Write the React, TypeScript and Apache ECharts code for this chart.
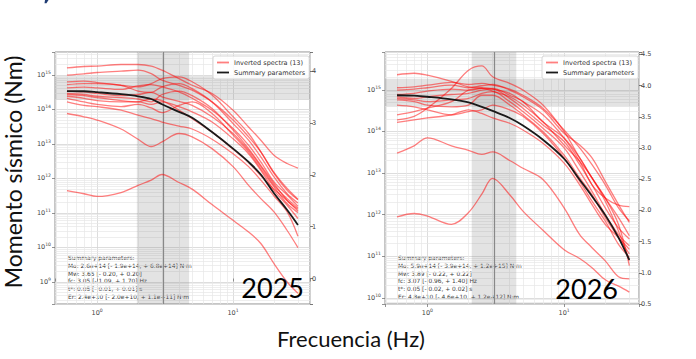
import React, { useEffect, useRef } from "react";
import * as echarts from "echarts";

const FREQ = [0.6, 0.8, 1, 1.5, 2, 2.5, 3, 4, 5, 7, 10, 13, 16, 20, 25, 30];

const SPECTRA_2025: number[][] = [
  [1.6e15, 1.75e15, 1.8e15, 2.0e15, 2.0e15, 1.8e15, 1.37e15, 7.8e14, 5.0e14, 2.9e14, 9.5e13, 3.1e13, 1.28e13, 4.7e12, 2.7e12, 2.0e12],
  [9.8e14, 1.07e15, 1.17e15, 1.28e15, 1.37e15, 1.09e15, 7.0e14, 5.0e14, 3.6e14, 1.65e14, 4.9e13, 1.6e13, 5.9e12, 1.5e12, 5.1e11, 2.5e11],
  [6.3e14, 6.6e14, 6.0e14, 5.0e14, 4.5e14, 5.6e14, 7.8e14, 8.7e14, 6.3e14, 2.6e14, 6.1e13, 2.0e13, 5.9e12, 1.4e12, 4.5e11, 2.4e11],
  [5.2e14, 5.6e14, 5.6e14, 5.0e14, 3.4e14, 3.1e14, 4.5e14, 5.6e14, 4.0e14, 1.65e14, 3.9e13, 1.28e13, 4.2e12, 1.1e12, 3.6e11, 1.95e11],
  [4.2e14, 4.4e14, 4.2e14, 3.8e14, 4.8e14, 5.2e14, 4.5e14, 3.2e14, 2.1e14, 9.5e13, 2.8e13, 9.2e12, 3.0e12, 7.9e11, 3.3e11, 1.56e11],
  [3.4e14, 3.2e14, 2.9e14, 2.5e14, 2.7e14, 3.1e14, 2.3e14, 1.7e14, 1.3e14, 6.1e13, 2.0e13, 6.6e12, 2.2e12, 6.3e11, 2.6e11, 1.4e11],
  [2.9e14, 2.7e14, 2.4e14, 2.2e14, 2.0e14, 1.65e14, 2.7e14, 3.4e14, 2.5e14, 1.06e14, 2.5e13, 7.3e12, 2.4e12, 7.1e11, 2.3e11, 1.28e11],
  [2.4e14, 2.1e14, 1.8e14, 1.65e14, 1.65e14, 1.4e14, 1.65e14, 1.2e14, 8.5e13, 4.3e13, 1.4e13, 5.2e12, 1.7e12, 4.5e11, 1.67e11, 6.9e10],
  [2.1e14, 1.65e14, 1.4e14, 1.2e14, 1.4e14, 1.1e14, 8.1e13, 1.3e14, 1.65e14, 7.6e13, 1.8e13, 5.9e12, 1.9e12, 5.7e11, 1.87e11, 1.02e11],
  [1.65e14, 1.3e14, 1.2e14, 9.5e13, 6.8e13, 5.4e13, 4.3e13, 3.3e13, 2.7e13, 1.37e13, 5.2e12, 2.2e12, 8.9e11, 3.1e11, 1.07e11, 2.1e10],
  [7.6e13, 6.1e13, 4.9e13, 2.7e13, 1.37e13, 8.4e12, 1.14e13, 2.0e13, 1.6e13, 7.3e12, 2.2e12, 6.3e11, 2.6e11, 1.07e11, 3.1e10, 9.9e9],
  [2.7e14, 2.5e14, 2.2e14, 1.8e14, 1.65e14, 2.0e14, 1.8e14, 9.5e13, 5.4e13, 2.2e13, 7.0e12, 2.9e12, 1.2e12, 4.9e11, 2.3e11, 1.14e11],
  [4.4e11, 3.6e11, 3.0e11, 3.9e11, 6.3e11, 8.9e11, 1.3e12, 7.6e11, 4.9e11, 1.75e11, 6.1e10, 2.8e10, 1.3e10, 3.4e9, 1.0e9, 4.7e8],
];
const SUMMARY_2025 = [3.4e14, 3.35e14, 3.15e14, 2.75e14, 2.4e14, 2.0e14, 1.41e14, 8.5e13, 5.7e13, 2.2e13, 7.3e12, 3.0e12, 1.3e12, 3.7e11, 1.22e11, 4.5e10];

const SPECTRA_2026: number[][] = [
  [2.3e15, 2.5e15, 2.24e15, 1.6e15, 1.18e15, 1.12e15, 1.04e15, 8.2e14, 5.2e14, 2.5e14, 6.9e13, 1.9e13, 5.2e12, 2.5e12, 1.68e12, 1.56e12],
  [1.12e15, 1.18e15, 1.29e15, 1.5e15, 1.34e15, 1.42e15, 1.29e15, 1.04e15, 7.4e14, 3.6e14, 1.08e14, 4.0e13, 1.58e13, 5.2e12, 1.45e12, 7.1e11],
  [9.8e14, 1.04e15, 1.12e15, 1.29e15, 1.12e15, 1.25e15, 1.34e15, 9.8e14, 6.8e14, 3.3e14, 9.0e13, 4.7e13, 2.3e13, 6.3e12, 1.74e12, 6.5e11],
  [7.7e14, 8.2e14, 9.3e14, 1.04e15, 9.8e14, 1.08e15, 1.08e15, 7.4e14, 5.2e14, 1.7e14, 6.9e13, 2.3e13, 7.6e12, 2.5e12, 8.4e11, 3.1e11],
  [6.8e14, 6.2e14, 6.8e14, 7.7e14, 8.2e14, 9.8e14, 1.04e15, 6.2e14, 3.6e14, 1.43e14, 5.7e13, 1.58e13, 5.2e12, 1.45e12, 4.8e11, 2.6e11],
  [6.2e14, 5.7e14, 5.2e14, 5.7e14, 6.2e14, 8.2e14, 9.0e14, 5.2e14, 3.0e14, 1.19e14, 4.0e13, 1.09e13, 3.6e12, 1.0e12, 3.3e11, 1.79e11],
  [5.7e14, 5.2e14, 4.3e14, 3.9e14, 4.3e14, 7.4e14, 7.4e14, 4.3e14, 2.5e14, 9.9e13, 2.7e13, 7.6e12, 3.0e12, 8.4e11, 2.8e11, 1.13e11],
  [4.3e14, 3.9e14, 3.3e14, 2.5e14, 3.0e14, 3.3e14, 4.3e14, 3.3e14, 2.3e14, 9.0e13, 2.3e13, 6.3e12, 2.1e12, 7.0e11, 1.92e11, 9.4e10],
  [2.5e14, 3.0e14, 3.6e14, 5.2e14, 9.8e14, 1.08e15, 9.3e14, 6.8e14, 4.3e14, 1.7e14, 4.7e13, 1.9e13, 7.6e12, 2.1e12, 4.0e11, 7.8e10],
  [1.9e14, 2.3e14, 3.6e14, 1.08e15, 2.95e15, 3.75e15, 2.05e15, 1.42e15, 9.8e14, 4.3e14, 9.9e13, 2.3e13, 7.6e12, 2.5e12, 5.8e11, 5.9e10],
  [1.65e14, 1.9e14, 2.1e14, 2.5e14, 3.3e14, 2.7e14, 2.1e14, 1.57e14, 1.08e14, 5.2e13, 1.73e13, 5.2e12, 1.74e12, 5.8e11, 2.8e11, 1.46e11],
  [3.0e13, 4.5e13, 7.0e13, 4.5e13, 3.5e13, 2.8e13, 3.2e13, 2.0e13, 1.3e13, 7.0e12, 1.45e12, 3.3e11, 1.6e11, 7.7e10, 3.2e10, 2.85e10],
  [8.8e11, 1.06e12, 9.2e11, 5.8e11, 1.12e12, 3.1e12, 7.4e12, 3.0e12, 1.21e12, 4.2e11, 1.43e11, 8.8e10, 5.3e10, 2.7e10, 1.9e10, 1.37e10],
];
const SUMMARY_2026 = [7.4e14, 7.2e14, 6.8e14, 5.9e14, 5.0e14, 3.9e14, 3.1e14, 2.1e14, 1.38e14, 6.3e13, 2.2e13, 6.9e12, 2.75e12, 9.7e11, 2.8e11, 8.1e10];

const FC = [3.05, 3.07];
const FC_BAND = [[1.96, 4.75], [2.11, 4.47]];
const MO_BAND = [[1.9e14, 8.8e14], [4.0e14, 1.84e15]];

const X_RANGE = [[0.49, 36.8], [0.49, 35.3]];
const Y_RANGE = [[2.3e8, 4.6e15], [7.08e9, 8.1e15]];

const X_MINOR = [0.5, 0.6, 0.7, 0.8, 0.9, 2, 3, 4, 5, 6, 7, 8, 9, 20, 30];
const MINOR_MULT = [2, 3, 4, 5, 6, 7, 8, 9];
const DECADES = [8, 9, 10, 11, 12, 13, 14, 15];

const TEXT_2025 = [
  "Summary parameters:",
  "Mo: 2.6e+14 [- 1.9e+14, + 6.8e+14] N·m",
  "Mw: 3.65 [- 0.20, + 0.20]",
  "fc: 3.05 [- 1.09, + 1.70] Hz",
  "t*: 0.05 [- 0.01, + 0.01] s",
  "Er: 2.4e+10 [- 2.0e+10, + 1.1e+11] N·m",
];
const TEXT_2026 = [
  "Summary parameters:",
  "Mo: 5.9e+14 [- 3.9e+14, + 1.2e+15] N·m",
  "Mw: 3.89 [- 0.22, + 0.22]",
  "fc: 3.07 [- 0.96, + 1.40] Hz",
  "t*: 0.05 [- 0.02, + 0.02] s",
  "Er: 4.8e+10 [- 4.6e+10, + 1.2e+12] N·m",
];

const RED_NAME = "Inverted spectra (13)";
const BLACK_NAME = "Summary parameters";
const RED = "rgba(255,0,0,0.5)";
const TICK_FONT = "DejaVu Sans";

const mw = (m: number) => (2 / 3) * (Math.log10(m) - 9.1);

const supLabel = (v: number) => {
  const l = Math.log10(v);
  const e = Math.round(l);
  if (Math.abs(l - e) > 1e-6) return "";
  return `{b|10}{s|${e}}`;
};
const rich = {
  b: { fontSize: 6.5, color: "#444", fontFamily: TICK_FONT },
  s: { fontSize: 4.6, color: "#444", fontFamily: TICK_FONT, padding: [0, 0, 5, 0] },
};

const GRIDS = [
  { left: 55, top: 52, width: 255, height: 252 },
  { left: 385, top: 52, width: 254, height: 252 },
];

function buildOption() {
  const xAxis: any[] = [];
  const yAxis: any[] = [];
  const series: any[] = [];
  [0, 1].forEach((p) => {
    xAxis.push({
      type: "log",
      logBase: 10,
      gridIndex: p,
      min: X_RANGE[p][0],
      max: X_RANGE[p][1],
      axisLine: { show: false },
      axisTick: { show: true, length: 3, lineStyle: { color: "#777", width: 0.8 } },
      axisLabel: { formatter: supLabel, rich, margin: 4 },
      splitLine: { show: true, lineStyle: { color: "#d4d4d4", width: 0.8 } },
    });
    yAxis.push({
      type: "log",
      logBase: 10,
      gridIndex: p,
      position: "left",
      min: Y_RANGE[p][0],
      max: Y_RANGE[p][1],
      axisLine: { show: false },
      axisTick: { show: true, length: 3, lineStyle: { color: "#777", width: 0.8 } },
      axisLabel: { formatter: supLabel, rich, margin: 4 },
      splitLine: { show: true, lineStyle: { color: "#d4d4d4", width: 0.8 } },
    });
    const mwMin = mw(Y_RANGE[p][0]);
    const mwMax = mw(Y_RANGE[p][1]);
    yAxis.push({
      type: "value",
      gridIndex: p,
      position: "right",
      min: mwMin,
      max: mwMax,
      ...(p === 1 ? { interval: 0.5 } : { splitNumber: 5 }),
      axisLine: { show: false },
      axisTick: { show: true, length: 3, lineStyle: { color: "#555", width: 0.8 } },
      axisLabel: {
        margin: 2,
        fontSize: 6.5,
        color: "#444",
        fontFamily: TICK_FONT,
        formatter: (v: number) => {
          if (p === 0) return Math.abs(v - Math.round(v)) < 1e-3 ? String(Math.round(v)) : "";
          return Math.abs(v * 2 - Math.round(v * 2)) < 2e-3 ? (Math.round(v * 2) / 2).toFixed(1) : "";
        },
      },
      splitLine: { show: false },
    });
    const yi = p * 2;
    const yMinor: any[] = [];
    DECADES.forEach((d) =>
      MINOR_MULT.forEach((k) => {
        const v = k * Math.pow(10, d);
        if (v > Y_RANGE[p][0] && v < Y_RANGE[p][1]) yMinor.push({ yAxis: v });
      })
    );
    series.push({
      type: "line",
      xAxisIndex: p,
      yAxisIndex: yi,
      data: [],
      silent: true,
      markLine: {
        z: 0,
        silent: true,
        symbol: ["none", "none"],
        label: { show: false },
        lineStyle: { color: "#e6e6e6", width: 0.7, type: "solid" },
        emphasis: { disabled: true },
        data: [...X_MINOR.map((v) => ({ xAxis: v })), ...yMinor],
      },
    });
    series.push({
      type: "line",
      xAxisIndex: p,
      yAxisIndex: yi,
      data: [],
      silent: true,
      markArea: {
        z: 1,
        silent: true,
        itemStyle: { color: "rgba(128,128,128,0.22)" },
        emphasis: { disabled: true },
        data: [
          [{ xAxis: FC_BAND[p][0] }, { xAxis: FC_BAND[p][1] }],
          [{ yAxis: MO_BAND[p][0] }, { yAxis: MO_BAND[p][1] }],
        ],
      },
      markLine: {
        z: 1,
        silent: true,
        symbol: ["none", "none"],
        label: { show: false },
        lineStyle: { color: "#888", width: 1.2, type: "solid" },
        emphasis: { disabled: true },
        data: [{ xAxis: FC[p] }],
      },
    });
    const spectra = p === 0 ? SPECTRA_2025 : SPECTRA_2026;
    const summary = p === 0 ? SUMMARY_2025 : SUMMARY_2026;
    spectra.forEach((arr) => {
      series.push({
        name: RED_NAME,
        type: "line",
        xAxisIndex: p,
        yAxisIndex: yi,
        data: FREQ.map((f, i) => [f, arr[i]]),
        showSymbol: false,
        smooth: 0.35,
        silent: true,
        z: 2,
        color: RED,
        lineStyle: { color: RED, width: 1.3 },
        emphasis: { disabled: true },
      });
    });
    series.push({
      name: BLACK_NAME,
      type: "line",
      xAxisIndex: p,
      yAxisIndex: yi,
      data: FREQ.map((f, i) => [f, summary[i]]),
      showSymbol: false,
      smooth: 0.35,
      silent: true,
      z: 3,
      color: "#1a1a1a",
      lineStyle: { color: "#1a1a1a", width: 1.8 },
      emphasis: { disabled: true },
    });
  });

  const legendBase = {
    orient: "vertical",
    top: 56,
    icon: "rect",
    itemWidth: 12,
    itemHeight: 1.8,
    itemGap: 3,
    selectedMode: false,
    data: [RED_NAME, BLACK_NAME],
    textStyle: { fontSize: 6.5, fontFamily: TICK_FONT, color: "#333" },
    backgroundColor: "rgba(255,255,255,0.85)",
    borderColor: "#cccccc",
    borderWidth: 0.8,
    borderRadius: 2,
    padding: [3, 4, 3, 4],
  };

  const textStyle = (t: string[], x: number) => ({
    type: "text",
    x,
    y: 254.5,
    silent: true,
    style: {
      text: t.join("\n"),
      font: `5.9px "${TICK_FONT}"`,
      lineHeight: 7.7,
      fill: "#3a3a3a",
    },
  });

  return {
    animation: false,
    backgroundColor: "#ffffff",
    grid: GRIDS.map((g) => ({ ...g, show: true, borderColor: "#8c8c8c", borderWidth: 1, backgroundColor: "#fff" })),
    xAxis,
    yAxis,
    legend: [
      { ...legendBase, left: 213 },
      { ...legendBase, left: 542 },
    ],
    series,
    graphic: [
      {
        type: "polygon",
        silent: true,
        shape: { points: [[45, 0], [48.5, 0], [46.5, 3.2], [44.5, 3.2]] },
        style: { fill: "#1f3b73" },
      },
      {
        type: "text",
        x: 13,
        y: 172,
        rotation: Math.PI / 2,
        silent: true,
        style: {
          text: "Momento sísmico (Nm)",
          font: '23px Lato',
          fill: "#111",
          align: "center",
          verticalAlign: "middle",
          textAlign: "center",
          textVerticalAlign: "middle",
        },
      },
      {
        type: "text",
        x: 351,
        y: 338,
        silent: true,
        style: {
          text: "Frecuencia (Hz)",
          font: '22px Lato',
          fill: "#111",
          align: "center",
          verticalAlign: "middle",
          textAlign: "center",
          textVerticalAlign: "middle",
        },
      },
      textStyle(TEXT_2025, 68),
      textStyle(TEXT_2026, 398),
      {
        type: "text",
        x: 304,
        y: 287,
        silent: true,
        z: 10,
        style: {
          text: "2025",
          font: '27px Lato',
          fill: "#000",
          align: "right",
          verticalAlign: "middle",
          textAlign: "right",
          textVerticalAlign: "middle",
        },
      },
      {
        type: "text",
        x: 618,
        y: 288,
        silent: true,
        z: 10,
        style: {
          text: "2026",
          font: '27px Lato',
          fill: "#000",
          align: "right",
          verticalAlign: "middle",
          textAlign: "right",
          textVerticalAlign: "middle",
        },
      },
    ],
  };
}

export default function App() {
  const ref = useRef<HTMLDivElement>(null);
  useEffect(() => {
    if (!ref.current) return;
    const chart = echarts.init(ref.current, undefined, { renderer: "svg" });
    chart.setOption(buildOption() as any);
    return () => chart.dispose();
  }, []);
  return (
    <div
      ref={ref}
      style={{ position: "fixed", left: 0, top: 0, width: 696, height: 359, background: "#fff" }}
    />
  );
}
